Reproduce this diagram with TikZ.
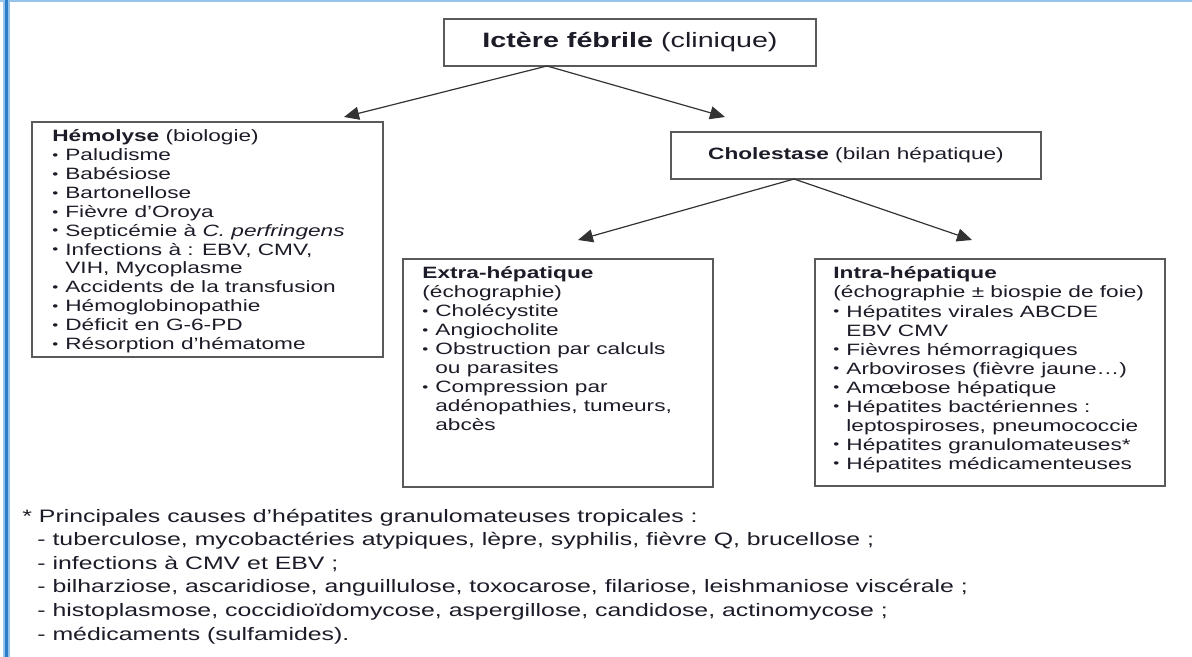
\documentclass[tikz,border=0pt]{standalone}
\usepackage{fontspec}
\usepackage{graphicx}
\setmainfont{Liberation Sans}[FakeStretch=1.38]
\usetikzlibrary{arrows.meta,fit}
\definecolor{ink}{RGB}{28,28,40}
\definecolor{boxline}{RGB}{90,90,90}
\definecolor{framedark}{RGB}{45,125,200}
\definecolor{framelight}{RGB}{150,195,235}
\newcommand\bl{\makebox[6.5pt][l]{\raisebox{0.08em}{\scalebox{0.75}{•}}}}
\newcommand\ct{\hspace*{6.5pt}}
\tikzset{
  boxframe/.style={draw=boxline,line width=1pt,inner sep=0pt,fill=white},
  bodytext/.style={font=\fontsize{8.2}{9.4}\selectfont,text=ink,inner sep=0pt,anchor=base west},
  foottext/.style={font=\fontsize{9}{11}\selectfont,text=ink,inner sep=0pt,anchor=base west},
  arr/.style={draw=black!80,line width=0.6pt,-{Triangle[length=7.5pt,width=6.5pt]}}
}
\begin{document}
\begin{tikzpicture}[x=0.5pt,y=-0.5pt]
\useasboundingbox (0,0) rectangle (1192,657);
\fill[white] (0,0) rectangle (1192,657);
% frame
\fill[framelight] (0,0) rectangle (1192,2);
\fill[framelight] (3,0) rectangle (9.5,657);
\fill[framedark] (4.5,0) rectangle (8,657);
% boxes
\coordinate (ictA) at (444,19); \coordinate (ictB) at (816,66);
\node[boxframe,fit=(ictA)(ictB)] (ict) {};
\coordinate (hemA) at (32,122); \coordinate (hemB) at (383,357);
\node[boxframe,fit=(hemA)(hemB)] (hem) {};
\coordinate (choA) at (671,132); \coordinate (choB) at (1041,179);
\node[boxframe,fit=(choA)(choB)] (cho) {};
\coordinate (extA) at (403,259); \coordinate (extB) at (713,487);
\node[boxframe,fit=(extA)(extB)] (ext) {};
\coordinate (intA) at (815,259); \coordinate (intB) at (1165,486);
\node[boxframe,fit=(intA)(intB)] (int) {};
% titles
\node[font=\fontsize{10.4}{12}\selectfont,text=ink,inner sep=0pt] (ictT) at (ict.center) {\textbf{Ictère fébrile} (clinique)};
\node[font=\fontsize{8.2}{10}\selectfont,text=ink,inner sep=0pt] (choT) at (cho.center) {\textbf{Cholestase} (bilan hépatique)};
% connectors
\coordinate (ictApex) at (547,66);
\coordinate (tipHem) at (344,117);
\coordinate (tipCho) at (725,117);
\draw[arr] (ictApex) -- (tipHem);
\draw[arr] (ictApex) -- (tipCho);
\coordinate (choApex) at (794,179);
\coordinate (tipExt) at (578,240);
\coordinate (tipInt) at (972,240);
\draw[arr] (choApex) -- (tipExt);
\draw[arr] (choApex) -- (tipInt);
% hemolyse
\foreach \t [count=\i from 0] in {
  {\textbf{Hémolyse} (biologie)},
  {\bl Paludisme},
  {\bl Babésiose},
  {\bl Bartonellose},
  {\bl Fièvre d’Oroya},
  {\bl Septicémie à \textit{C. perfringens}},
  {\bl Infections à : EBV, CMV,},
  {\ct VIH, Mycoplasme},
  {\bl Accidents de la transfusion},
  {\bl Hémoglobinopathie},
  {\bl Déficit en G-6-PD},
  {\bl Résorption d’hématome}}
  \node[bodytext] (hem\i) at (52,{142+\i*18.85}) {\t};
% extra
\foreach \t [count=\i from 0] in {
  {\textbf{Extra-hépatique}},
  {(échographie)},
  {\bl Cholécystite},
  {\bl Angiocholite},
  {\bl Obstruction par calculs},
  {\ct ou parasites},
  {\bl Compression par},
  {\ct adénopathies, tumeurs,},
  {\ct abcès}}
  \node[bodytext] (ext\i) at (422,{279+\i*18.95}) {\t};
% intra
\foreach \t [count=\i from 0] in {
  {\textbf{Intra-hépatique}},
  {(échographie ± biospie de foie)},
  {\bl Hépatites virales ABCDE},
  {\ct EBV CMV},
  {\bl Fièvres hémorragiques},
  {\bl Arboviroses (fièvre jaune…)},
  {\bl Amœbose hépatique},
  {\bl Hépatites bactériennes :},
  {\ct leptospiroses, pneumococcie},
  {\bl Hépatites granulomateuses*},
  {\bl Hépatites médicamenteuses}}
  \node[bodytext] (int\i) at (833,{279+\i*19}) {\t};
% footnote
\node[foottext] (f0) at (22,522) {* Principales causes d’hépatites granulomateuses tropicales :};
\foreach \t [count=\i] in {
  {- tuberculose, mycobactéries atypiques, lèpre, syphilis, fièvre Q, brucellose ;},
  {- infections à CMV et EBV ;},
  {- bilharziose, ascaridiose, anguillulose, toxocarose, filariose, leishmaniose viscérale ;},
  {- histoplasmose, coccidioïdomycose, aspergillose, candidose, actinomycose ;},
  {- médicaments (sulfamides).}}
  \node[foottext] (f\i) at (37,{522+\i*23.6}) {\t};
\end{tikzpicture}
\end{document}
